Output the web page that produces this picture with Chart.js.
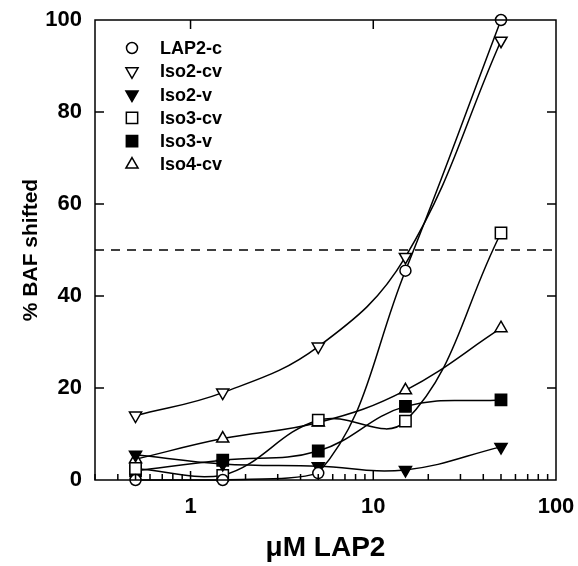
<!DOCTYPE html>
<html>
<head>
  <script src="https://cdn.jsdelivr.net/npm/chart.js@4.4.0/dist/chart.umd.min.js"></script>
  <style>
    * { margin: 0; padding: 0; }
    body { background: #fff; width: 578px; height: 566px; overflow: hidden; }
    #wrap { width: 578px; height: 566px; position: relative; }
  </style>
</head>
<body>
  <div id="wrap"><canvas id="baf"></canvas></div>

  <script>
    // values
    const concentrations = [0.5, 1.5, 5, 15, 50];
    const lap2c  = [0, 0, 1.5, 45.5, 100];
    const iso2cv = [14, 19, 29, 48.5, 95.5];
    const iso2v  = [5.5, 3.5, 3, 2.2, 7.2];
    const iso3cv = [2.5, 1, 13, 12.8, 53.7];
    const iso3v  = [2, 4.3, 6.3, 16, 17.4];
    const iso4cv = [4.5, 9, 12.5, 19.5, 33];
    const seriesNames = ['LAP2-c', 'Iso2-cv', 'Iso2-v', 'Iso3-cv', 'Iso3-v', 'Iso4-cv'];
    const xLabelled = [1, 10, 100];
    const threshold = 50;

    const FONT = '"Liberation Sans", Arial, sans-serif';

    // marker look per series
    const markers = [
      { style: 'circle',   rot: 0,   r: 5.5, filled: false },
      { style: 'triangle', rot: 180, r: 7,   filled: false },
      { style: 'triangle', rot: 180, r: 7,   filled: true  },
      { style: 'rect',     rot: 0,   r: 8,   filled: false },
      { style: 'rect',     rot: 0,   r: 8,   filled: true  },
      { style: 'triangle', rot: 0,   r: 7,   filled: false }
    ];
    const allSeries = [lap2c, iso2cv, iso2v, iso3cv, iso3v, iso4cv];

    const datasets = allSeries.map((vals, i) => ({
      label: seriesNames[i],
      data: concentrations.map((c, j) => ({ x: c, y: vals[j] })),
      borderColor: '#000',
      borderWidth: 1.5,
      tension: 0.4,
      pointStyle: markers[i].style,
      pointRotation: markers[i].rot,
      pointRadius: markers[i].r,
      pointBorderWidth: 1.5,
      pointBorderColor: '#000',
      pointBackgroundColor: markers[i].filled ? '#000' : '#fff',
      clip: false
    }));

    datasets.push({
      label: 'half',
      data: [{ x: 0.3, y: threshold }, { x: 100, y: threshold }],
      borderColor: '#000',
      borderWidth: 1.5,
      borderDash: [9, 7],
      pointRadius: 0,
      tension: 0
    });

    // inward ticks + frame
    const frameTicks = {
      id: 'frameTicks',
      afterDraw(chart) {
        const { ctx, chartArea: a, scales } = chart;
        const xs = scales.x, ys = scales.y;
        ctx.save();
        ctx.strokeStyle = '#000';
        ctx.lineWidth = 1.5;
        ctx.strokeRect(a.left, a.top, a.right - a.left, a.bottom - a.top);
        ctx.beginPath();
        for (const d of [0.1, 1, 10]) {
          for (let m = 1; m <= 9; m++) {
            const v = m * d;
            if (v < 0.3 - 1e-9 || v > 100 + 1e-9) continue;
            const px = xs.getPixelForValue(v);
            const len = m === 1 ? 9 : 6;
            ctx.moveTo(px, a.bottom);
            ctx.lineTo(px, a.bottom - len);
            if (m === 1) {
              ctx.moveTo(px, a.top);
              ctx.lineTo(px, a.top + 9);
            }
          }
        }
        for (let v = 20; v < 100; v += 20) {
          const py = ys.getPixelForValue(v);
          ctx.moveTo(a.left, py);
          ctx.lineTo(a.left + 9, py);
          ctx.moveTo(a.right, py);
          ctx.lineTo(a.right - 9, py);
        }
        ctx.stroke();
        ctx.restore();
      }
    };

    // legend drawn inside the plot, top left
    const insideLegend = {
      id: 'insideLegend',
      afterDraw(chart) {
        const { ctx, chartArea: a } = chart;
        ctx.save();
        ctx.font = 'bold 18px ' + FONT;
        ctx.textBaseline = 'middle';
        seriesNames.forEach((name, i) => {
          const y = a.top + 28 + i * 23.3;
          const x = a.left + 37;
          const mk = markers[i];
          ctx.fillStyle = mk.filled ? '#000' : '#fff';
          ctx.strokeStyle = '#000';
          ctx.lineWidth = 1.5;
          Chart.helpers.drawPoint(ctx, {
            pointStyle: mk.style, rotation: mk.rot, radius: mk.r, borderWidth: 1.5
          }, x, y);
          ctx.fillStyle = '#000';
          ctx.fillText(name, a.left + 65, y + 1);
        });
        ctx.restore();
      }
    };

    new Chart(document.getElementById('baf'), {
      type: 'line',
      data: { datasets },
      options: {
        responsive: true,
        maintainAspectRatio: false,
        animation: false,
        layout: { padding: { top: 20, right: 22, left: 0, bottom: 0 } },
        plugins: { legend: { display: false }, tooltip: { enabled: false } },
        scales: {
          x: {
            type: 'logarithmic',
            min: 0.3,
            max: 100,
            grid: { display: false, drawTicks: false },
            border: { display: false },
            afterFit: s => { s.height = 86; s.paddingLeft = 0; s.paddingRight = 0; },
            ticks: {
              autoSkip: false,
              maxRotation: 0,
              padding: 14,
              color: '#000',
              font: { family: FONT, size: 22, weight: 'bold' },
              callback: v => xLabelled.some(t => Math.abs(t - v) < 1e-6) ? String(v) : ''
            },
            title: {
              display: true,
              text: 'μM LAP2',
              color: '#000',
              font: { family: FONT, size: 28, weight: 'bold' },
              padding: { top: 0, bottom: 1 }
            }
          },
          y: {
            min: 0,
            max: 100,
            grid: { display: false, drawTicks: false },
            border: { display: false },
            afterFit: s => { s.width = 95; s.paddingTop = 0; s.paddingBottom = 0; },
            ticks: {
              stepSize: 20,
              padding: 13,
              color: '#000',
              font: { family: FONT, size: 22, weight: 'bold' }
            },
            title: {
              display: true,
              text: '% BAF shifted',
              color: '#000',
              font: { family: FONT, size: 21, weight: 'bold' },
              padding: { top: 19, bottom: 0 }
            }
          }
        }
      },
      plugins: [frameTicks, insideLegend]
    });
  </script>
</body>
</html>
